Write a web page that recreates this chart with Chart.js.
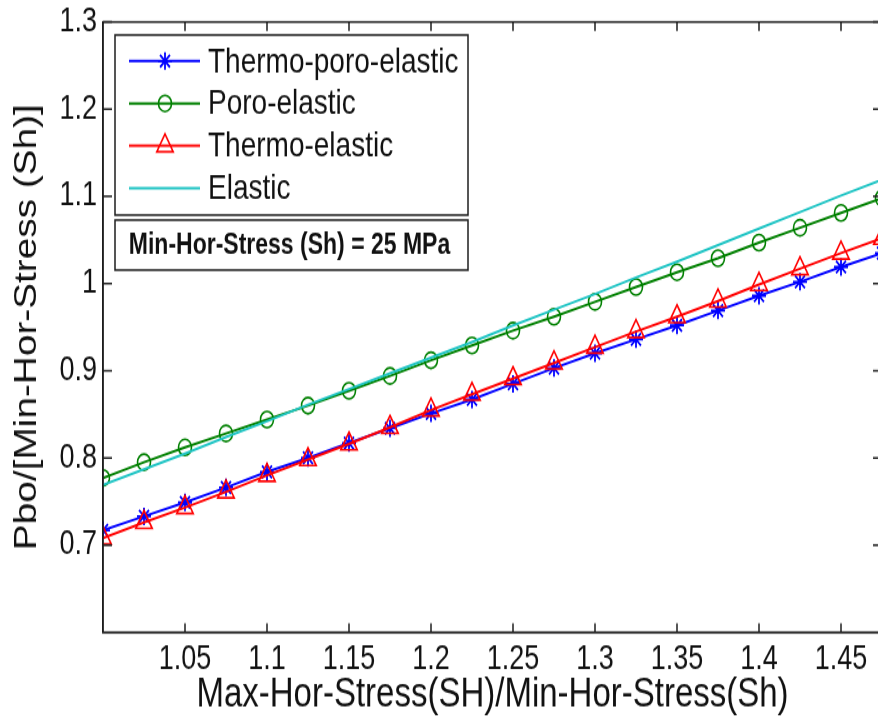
<!DOCTYPE html>
<html>
<head>
<meta charset="utf-8">
<script src="https://cdn.jsdelivr.net/npm/chart.js@4/dist/chart.umd.min.js"></script>
<style>
  html, body { margin: 0; padding: 0; background: #fff; overflow: hidden; }
  #wrap { width: 878px; height: 724px; overflow: hidden; position: relative; background: #fff; }
  canvas { display: block; }
</style>
</head>
<body>
<div id="wrap">
  <!-- drawn at 886x579 and shown 886x724: glyphs and markers come out tall, as in the printed figure -->
  <canvas id="c" width="886" height="579" style="width:886px;height:724px"></canvas>
</div>
<script>
// SH/Sh stress ratio
const ratios = [1.000, 1.025, 1.050, 1.075, 1.100, 1.125, 1.150, 1.175, 1.200, 1.225,
                1.250, 1.275, 1.300, 1.325, 1.350, 1.375, 1.400, 1.425, 1.450, 1.475];

// normalised breakdown pressure Pbo/Sh for each model
const thermoPoroElastic = [0.717, 0.733, 0.749, 0.766, 0.784, 0.800, 0.817, 0.834, 0.851, 0.867,
                           0.885, 0.903, 0.920, 0.936, 0.952, 0.969, 0.986, 1.002, 1.019, 1.035];
const poroElastic       = [0.777, 0.795, 0.812, 0.828, 0.844, 0.860, 0.877, 0.894, 0.912, 0.929,
                           0.946, 0.962, 0.979, 0.996, 1.013, 1.029, 1.047, 1.064, 1.081, 1.098];
const thermoElastic     = [0.708, 0.726, 0.743, 0.761, 0.780, 0.798, 0.816, 0.835, 0.855, 0.873,
                           0.891, 0.909, 0.927, 0.945, 0.962, 0.980, 0.999, 1.017, 1.035, 1.052];
const elastic           = [0.769, 0.787, 0.805, 0.824, 0.842, 0.861, 0.879, 0.897, 0.915, 0.933,
                           0.952, 0.970, 0.988, 1.007, 1.025, 1.044, 1.063, 1.082, 1.101, 1.119];

const seriesNames = ['Thermo-poro-elastic', 'Poro-elastic', 'Thermo-elastic', 'Elastic'];

const xTickLabels = ['1.05', '1.1', '1.15', '1.2', '1.25', '1.3', '1.35', '1.4', '1.45'];
const yTickLabels = ['0.7', '0.8', '0.9', '1', '1.1', '1.2', '1.3'];

const xTitle = 'Max-Hor-Stress(SH)/Min-Hor-Stress(Sh)';
const yTitle = 'Pbo/[Min-Hor-Stress (Sh)]';
const noteText = 'Min-Hor-Stress (Sh) = 25 MPa';

const FONT = "'Liberation Sans', Arial, Helvetica, sans-serif";
const INK = '#111111';
const AXIS = '#1e1e1e';

Chart.defaults.font.family = FONT;
Chart.defaults.color = INK;

const toPoints = vals => ratios.map((r, i) => ({ x: r, y: vals[i] }));
const labelFor = list => v => {
  const hit = list.find(t => Math.abs(parseFloat(t) - v) < 1e-9);
  return hit === undefined ? '' : hit;
};
// the plot box is placed by the layout padding alone, so drop the label overhang reserves
const noOverhang = s => {
  s.paddingTop = 0; s.paddingBottom = 0; s.paddingLeft = 0; s.paddingRight = 0;
};

// Box round the plot, with short inward ticks on all four sides
const framePlugin = {
  id: 'frame',
  afterDraw(chart) {
    const { ctx, chartArea: a, scales } = chart;
    const xs = scales.x, ys = scales.y;
    ctx.save();
    ctx.strokeStyle = AXIS;
    ctx.lineWidth = 1.5;
    ctx.strokeRect(a.left, a.top, a.right - a.left, a.bottom - a.top);
    const tx = 7.2, ty = 9;
    ctx.beginPath();
    xTickLabels.forEach(t => {
      const px = xs.getPixelForValue(parseFloat(t));
      ctx.moveTo(px, a.bottom); ctx.lineTo(px, a.bottom - tx);
      ctx.moveTo(px, a.top);    ctx.lineTo(px, a.top + tx);
    });
    yTickLabels.forEach(t => {
      const py = ys.getPixelForValue(parseFloat(t));
      ctx.moveTo(a.left, py);  ctx.lineTo(a.left + ty, py);
      ctx.moveTo(a.right, py); ctx.lineTo(a.right - ty, py);
    });
    ctx.stroke();
    ctx.restore();
  }
};

// Legend panel and the note box underneath it
const legendPlugin = {
  id: 'legendPanel',
  afterDraw(chart) {
    const { ctx, chartArea: a } = chart;
    const left = a.left + 12, right = a.left + 365;
    const top = a.top + 10.4, bottom = a.top + 154.4;
    ctx.save();
    ctx.fillStyle = '#fff';
    ctx.strokeStyle = AXIS;
    ctx.lineWidth = 1.5;
    ctx.fillRect(left, top, right - left, bottom - top);
    ctx.strokeRect(left, top, right - left, bottom - top);

    chart.data.datasets.forEach((ds, i) => {
      const y = top + 20.8 + i * 33.9;
      ctx.strokeStyle = ds.borderColor;
      ctx.lineWidth = ds.borderWidth;
      ctx.beginPath();
      ctx.moveTo(left + 14, y);
      ctx.lineTo(left + 85, y);
      ctx.stroke();
      if (ds.pointRadius > 0) {
        ctx.strokeStyle = ds.pointBorderColor;
        ctx.fillStyle = ds.pointBackgroundColor;
        ctx.lineWidth = ds.pointBorderWidth;
        Chart.helpers.drawPoint(ctx, {
          pointStyle: ds.pointStyle,
          radius: ds.pointRadius,
          borderWidth: ds.pointBorderWidth,
          rotation: 0
        }, left + 50, y);
      }
      ctx.fillStyle = INK;
      ctx.font = `28px ${FONT}`;
      ctx.textAlign = 'left';
      ctx.textBaseline = 'middle';
      ctx.fillText(ds.label, left + 93, y + 1);
    });

    const nTop = a.top + 158.4, nBottom = a.top + 198.4;
    ctx.fillStyle = '#fff';
    ctx.strokeStyle = AXIS;
    ctx.lineWidth = 1.5;
    ctx.fillRect(left, nTop, right - left, nBottom - nTop);
    ctx.strokeRect(left, nTop, right - left, nBottom - nTop);
    ctx.fillStyle = INK;
    ctx.font = `bold 23px ${FONT}`;
    ctx.textAlign = 'center';
    ctx.textBaseline = 'middle';
    ctx.fillText(noteText, (left + right) / 2 - 2, (nTop + nBottom) / 2 + 1);
    ctx.restore();
  }
};

const datasets = [
  {
    label: seriesNames[0], data: toPoints(thermoPoroElastic), order: 4,
    borderColor: '#0000ff', borderWidth: 2,
    pointStyle: 'star', pointRadius: 7, pointBorderWidth: 1.8,
    pointBorderColor: '#0000ff', pointBackgroundColor: '#0000ff'
  },
  {
    label: seriesNames[1], data: toPoints(poroElastic), order: 3,
    borderColor: '#008000', borderWidth: 2,
    pointStyle: 'circle', pointRadius: 6.5, pointBorderWidth: 1.6,
    pointBorderColor: '#008000', pointBackgroundColor: 'rgba(0,0,0,0)'
  },
  {
    label: seriesNames[2], data: toPoints(thermoElastic), order: 2,
    borderColor: '#ff0000', borderWidth: 2,
    pointStyle: 'triangle', pointRadius: 9.5, pointBorderWidth: 1.6,
    pointBorderColor: '#ff0000', pointBackgroundColor: 'rgba(0,0,0,0)'
  },
  {
    label: seriesNames[3], data: toPoints(elastic), order: 1,
    borderColor: '#1fc4c4', borderWidth: 2,
    pointStyle: 'circle', pointRadius: 0, pointBorderWidth: 0,
    pointBorderColor: '#1fc4c4', pointBackgroundColor: '#1fc4c4'
  }
];

new Chart(document.getElementById('c'), {
  type: 'line',
  data: { datasets },
  plugins: [framePlugin, legendPlugin],
  options: {
    responsive: false,
    animation: false,
    events: [],
    layout: { autoPadding: false, padding: { top: 17.6, right: 4, left: 0, bottom: 0 } },
    elements: { line: { tension: 0 } },
    plugins: { legend: { display: false }, tooltip: { enabled: false } },
    scales: {
      x: {
        type: 'linear', position: 'bottom', min: 1, max: 1.475,
        afterBuildTicks: s => { s.ticks = xTickLabels.map(t => ({ value: parseFloat(t) })); },
        afterFit: s => { s.height = 73.4; noOverhang(s); },
        grid: { display: false, drawTicks: false },
        border: { display: true, color: AXIS, width: 1.5 },
        ticks: {
          callback: labelFor(xTickLabels), autoSkip: false, maxRotation: 0,
          padding: 6, color: INK, font: { size: 27 }
        },
        title: {
          display: true, text: xTitle, color: INK,
          font: { size: 33 }, padding: { top: 0, bottom: 3 }
        }
      },
      y: {
        type: 'linear', position: 'left', min: 0.6, max: 1.3,
        afterBuildTicks: s => { s.ticks = yTickLabels.map(t => ({ value: parseFloat(t) })); },
        afterFit: s => { s.width = 103; noOverhang(s); },
        grid: { display: false, drawTicks: false },
        border: { display: true, color: AXIS, width: 1.5 },
        ticks: {
          callback: labelFor(yTickLabels), autoSkip: false,
          padding: 6, color: INK, font: { size: 27 }
        },
        title: {
          display: true, text: yTitle, color: INK,
          font: { size: 31 }, padding: { top: 8.4, bottom: 0 }
        }
      }
    }
  }
});
</script>
</body>
</html>
